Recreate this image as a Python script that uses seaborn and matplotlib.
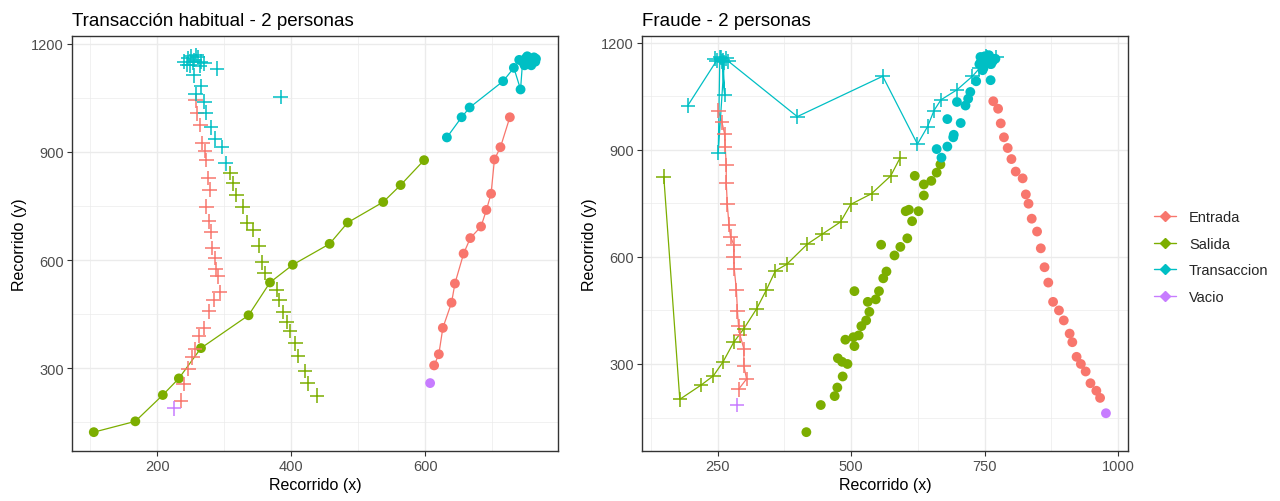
import pandas as pd
import matplotlib.pyplot as plt
import seaborn as sns
from matplotlib.lines import Line2D
from matplotlib.legend_handler import HandlerTuple

zonas = ['Entrada', 'Salida', 'Transaccion', 'Vacio']
colores = ['#F8766D', '#7CAE00', '#00BFC4', '#C77CFF']

# ---- Transacción habitual: persona 1 (cruces, sin línea) ----
hab1_entrada_x = [257, 259, 264, 267, 271, 273, 276, 278, 273, 277, 280, 282, 286, 287, 290, 293, 284, 277, 269, 262, 256, 252, 246, 239, 235]
hab1_entrada_y = [1043, 1007, 974, 924, 903, 878, 827, 795, 748, 707, 679, 634, 606, 574, 555, 511, 489, 458, 412, 389, 353, 330, 299, 256, 210]
hab1_salida_x = [309, 313, 318, 327, 334, 343, 351, 356, 360, 378, 382, 388, 393, 398, 406, 410, 420, 424, 438]
hab1_salida_y = [841, 813, 781, 748, 704, 684, 640, 594, 564, 518, 489, 456, 428, 403, 369, 334, 293, 258, 224]
hab1_trans_x = [240, 246, 250, 255, 260, 265, 270, 248, 253, 258, 263, 244, 289, 254, 265, 257, 270, 272, 280, 286, 296, 302, 384]
hab1_trans_y = [1150, 1160, 1166, 1155, 1162, 1150, 1145, 1140, 1148, 1168, 1138, 1142, 1131, 1112, 1082, 1060, 1039, 1009, 968, 937, 913, 868, 1052]
hab1_vacio_x = [225]
hab1_vacio_y = [189]

# ---- Transacción habitual: persona 2 (círculos, con línea) ----
hab2_entrada_x = [613, 620, 626, 639, 644, 657, 667, 683, 691, 698, 703, 712, 726]
hab2_entrada_y = [308, 339, 412, 482, 535, 618, 661, 693, 739, 784, 879, 913, 996]
hab2_salida_x = [105, 167, 208, 232, 265, 336, 368, 402, 457, 484, 537, 563, 598]
hab2_salida_y = [123, 153, 226, 272, 356, 447, 538, 587, 645, 704, 761, 808, 877]
hab2_trans_x = [632, 654, 666, 716, 732, 742, 745, 750, 755, 760, 764, 748, 752, 758, 762, 740, 765, 756]
hab2_trans_y = [940, 996, 1023, 1096, 1133, 1073, 1150, 1160, 1145, 1155, 1150, 1140, 1165, 1140, 1162, 1155, 1158, 1152]
hab2_vacio_x = [607]
hab2_vacio_y = [259]

# ---- Fraude: persona 1 (cruces, con línea) ----
fra1_entrada_x = [251, 258, 263, 264, 266, 266, 268, 271, 274, 280, 280, 281, 285, 287, 289, 292, 299, 299, 304, 289]
fra1_entrada_y = [1010, 977, 944, 909, 858, 808, 747, 690, 657, 634, 601, 566, 507, 447, 406, 380, 342, 295, 258, 229]
fra1_salida_x = [149, 179, 219, 242, 260, 280, 299, 323, 341, 358, 379, 418, 446, 480, 499, 538, 574, 591]
fra1_salida_y = [825, 201, 241, 267, 306, 361, 399, 455, 507, 561, 579, 636, 664, 698, 747, 777, 827, 876]
fra1_trans_x = [194, 248, 256, 262, 251, 254, 260, 263, 258, 266, 244, 270, 399, 559, 624, 643, 655, 668, 698, 727, 740, 748, 755, 760, 752, 772]
fra1_trans_y = [1024, 1150, 1158, 1145, 892, 1160, 1152, 1054, 1148, 1156, 1155, 1148, 993, 1106, 916, 965, 1010, 1040, 1068, 1106, 1128, 1150, 1158, 1148, 1162, 1160]
fra1_vacio_x = [286]
fra1_vacio_y = [185]

# ---- Fraude: persona 2 (círculos, sin línea) ----
fra2_entrada_x = [766, 775, 780, 786, 793, 800, 808, 821, 827, 832, 838, 848, 855, 862, 869, 878, 889, 898, 909, 914, 922, 930, 939, 948, 959, 966]
fra2_entrada_y = [1036, 1015, 974, 935, 905, 874, 839, 820, 775, 749, 707, 671, 624, 571, 528, 474, 450, 422, 385, 361, 320, 300, 279, 246, 225, 205]
fra2_salida_x = [416, 443, 469, 474, 484, 475, 483, 493, 489, 506, 504, 514, 519, 528, 534, 531, 546, 552, 506, 560, 566, 581, 556, 592, 605, 614, 602, 608, 626, 636, 636, 650, 660, 667, 619]
fra2_salida_y = [109, 185, 210, 234, 265, 316, 306, 300, 368, 350, 375, 380, 406, 422, 446, 474, 481, 504, 504, 540, 559, 604, 634, 628, 652, 700, 728, 732, 728, 772, 803, 813, 836, 859, 827]
fra2_trans_x = [660, 669, 680, 691, 692, 705, 680, 698, 714, 719, 723, 734, 761, 746, 740, 745, 750, 755, 760, 765, 748, 758, 752, 742, 762, 770]
fra2_trans_y = [902, 878, 909, 935, 942, 975, 986, 1034, 1024, 1043, 1062, 1092, 1095, 1123, 1140, 1155, 1162, 1150, 1158, 1148, 1130, 1165, 1145, 1160, 1140, 1155]
fra2_vacio_x = [977]
fra2_vacio_y = [162]


def tabla(xs, ys):
    filas = []
    for zona, x, y in zip(zonas, xs, ys):
        for a, b in zip(x, y):
            filas.append({'x': a, 'y': b, 'zona': zona})
    return pd.DataFrame(filas)


hab1 = tabla([hab1_entrada_x, hab1_salida_x, hab1_trans_x, hab1_vacio_x],
             [hab1_entrada_y, hab1_salida_y, hab1_trans_y, hab1_vacio_y])
hab2 = tabla([hab2_entrada_x, hab2_salida_x, hab2_trans_x, hab2_vacio_x],
             [hab2_entrada_y, hab2_salida_y, hab2_trans_y, hab2_vacio_y])
fra1 = tabla([fra1_entrada_x, fra1_salida_x, fra1_trans_x, fra1_vacio_x],
             [fra1_entrada_y, fra1_salida_y, fra1_trans_y, fra1_vacio_y])
fra2 = tabla([fra2_entrada_x, fra2_salida_x, fra2_trans_x, fra2_vacio_x],
             [fra2_entrada_y, fra2_salida_y, fra2_trans_y, fra2_vacio_y])

sns.set_style('white')
plt.rcParams['font.family'] = ['Liberation Sans', 'DejaVu Sans']
paleta = dict(zip(zonas, colores))

fig = plt.figure(figsize=(12.8, 5.02), dpi=100)
ax1 = fig.add_axes([0.056, 0.0996, 0.380, 0.826])
ax2 = fig.add_axes([0.5013, 0.0996, 0.380, 0.826])


def limites(serie):
    lo, hi = serie.min(), serie.max()
    d = (hi - lo) * 0.05
    return lo - d, hi + d


def panel(ax, p1, p2, linea1, titulo, xticks, yticks):
    if linea1:
        sns.lineplot(data=p1, x='x', y='y', hue='zona', palette=paleta, sort=False,
                     estimator=None, linewidth=0.9, legend=False, ax=ax, zorder=2)
    else:
        sns.lineplot(data=p2, x='x', y='y', hue='zona', palette=paleta, sort=False,
                     estimator=None, linewidth=0.9, legend=False, ax=ax, zorder=2)
    sns.scatterplot(data=p2, x='x', y='y', hue='zona', palette=paleta, marker='o',
                    s=50, linewidth=0, legend=False, ax=ax, zorder=3)
    sns.scatterplot(data=p1, x='x', y='y', hue='zona', palette=paleta, marker='+',
                    s=110, linewidth=1.1, legend=False, ax=ax, zorder=3)
    todo = pd.concat([p1, p2])
    ax.set_xticks(xticks)
    ax.set_yticks(yticks)
    paso_x = xticks[1] - xticks[0]
    paso_y = yticks[1] - yticks[0]
    ax.set_xticks([t - paso_x / 2 for t in xticks] + [xticks[-1] + paso_x / 2], minor=True)
    ax.set_yticks([t - paso_y / 2 for t in yticks] + [yticks[-1] + paso_y / 2], minor=True)
    ax.set_xlim(*limites(todo['x']))
    ax.set_ylim(*limites(todo['y']))
    ax.grid(which='major', color='#EBEBEB', linewidth=1.0)
    ax.grid(which='minor', color='#EBEBEB', linewidth=0.5)
    ax.set_axisbelow(True)
    for s in ax.spines.values():
        s.set_color('#333333')
        s.set_linewidth(1.0)
    ax.tick_params(which='major', length=3.5, width=0.8, color='#333333',
                   labelcolor='#4D4D4D', labelsize=10.5, pad=2, bottom=True, left=True)
    ax.tick_params(which='minor', length=0)
    ax.set_xlabel('Recorrido (x)', fontsize=11.5, color='black', labelpad=3)
    ax.set_ylabel('Recorrido (y)', fontsize=11.5, color='black', labelpad=3)
    ax.set_title(titulo, loc='left', fontsize=13.5, color='black', pad=8)


panel(ax1, hab1, hab2, False, 'Transacción habitual - 2 personas', [200, 400, 600], [300, 600, 900, 1200])
panel(ax2, fra1, fra2, True, 'Fraude - 2 personas', [250, 500, 750, 1000], [300, 600, 900, 1200])

manejadores = []
for c in colores:
    linea = Line2D([], [], color=c, linewidth=1.0)
    punto = Line2D([], [], color=c, marker='D', markersize=5, linestyle='none')
    manejadores.append((linea, punto))
fig.legend(manejadores, zonas, loc='center left', bbox_to_anchor=(1154 / 1280, 0.486),
           frameon=False, fontsize=10.5, handlelength=1.5, handletextpad=0.9,
           labelspacing=0.85, borderaxespad=0, borderpad=0,
           handler_map={tuple: HandlerTuple(ndivide=1)})

fig.savefig('out.png', dpi=100)
